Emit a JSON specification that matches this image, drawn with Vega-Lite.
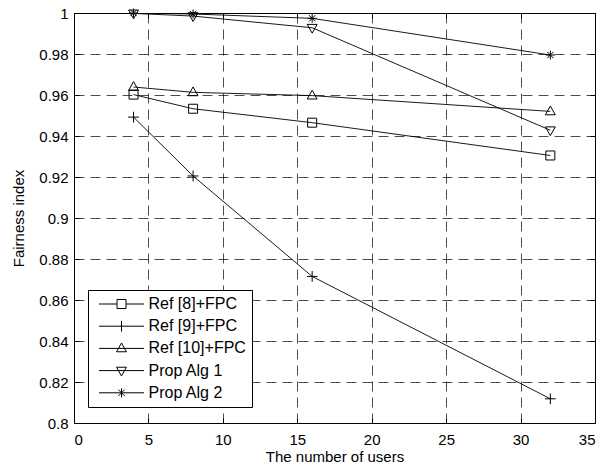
{
  "$schema": "https://vega.github.io/schema/vega-lite/v6.json",
  "width": 521,
  "height": 410,
  "autosize": {"type": "none"},
  "padding": {"left": 74, "top": 13, "right": 16, "bottom": 41},
  "background": "white",
  "data": {"values": [
    {"series": "Ref [8]+FPC", "users": 4, "fairness": 0.9602},
    {"series": "Ref [8]+FPC", "users": 8, "fairness": 0.9533},
    {"series": "Ref [8]+FPC", "users": 16, "fairness": 0.9465},
    {"series": "Ref [8]+FPC", "users": 32, "fairness": 0.9305},
    {"series": "Ref [9]+FPC", "users": 4, "fairness": 0.9492},
    {"series": "Ref [9]+FPC", "users": 8, "fairness": 0.9205},
    {"series": "Ref [9]+FPC", "users": 16, "fairness": 0.8715},
    {"series": "Ref [9]+FPC", "users": 32, "fairness": 0.8118},
    {"series": "Ref [10]+FPC", "users": 4, "fairness": 0.9639},
    {"series": "Ref [10]+FPC", "users": 8, "fairness": 0.9613},
    {"series": "Ref [10]+FPC", "users": 16, "fairness": 0.9597},
    {"series": "Ref [10]+FPC", "users": 32, "fairness": 0.952},
    {"series": "Prop Alg 1", "users": 4, "fairness": 0.9998},
    {"series": "Prop Alg 1", "users": 8, "fairness": 0.9985},
    {"series": "Prop Alg 1", "users": 16, "fairness": 0.9928},
    {"series": "Prop Alg 1", "users": 32, "fairness": 0.9428},
    {"series": "Prop Alg 2", "users": 4, "fairness": 1.0},
    {"series": "Prop Alg 2", "users": 8, "fairness": 0.9995},
    {"series": "Prop Alg 2", "users": 16, "fairness": 0.9974},
    {"series": "Prop Alg 2", "users": 32, "fairness": 0.9795}
  ]},
  "layer": [
    {
      "mark": {"type": "line", "color": "black", "strokeWidth": 0.9, "clip": true},
      "encoding": {
        "x": {"field": "users", "type": "quantitative",
              "scale": {"domain": [0, 35], "nice": false},
              "axis": {"orient": "bottom", "values": [0,5,10,15,20,25,30,35], "title": "The number of users", "grid": true, "format": "~g"}},
        "y": {"field": "fairness", "type": "quantitative",
              "scale": {"domain": [0.8, 1], "nice": false, "zero": false},
              "axis": {"orient": "left", "values": [0.8,0.82,0.84,0.86,0.88,0.9,0.92,0.94,0.96,0.98,1], "title": "Fairness index", "grid": true, "format": "~g"}},
        "detail": {"field": "series", "type": "nominal"}
      }
    },
    {
      "mark": {"type": "point", "filled": false, "stroke": "black", "strokeWidth": 1, "size": 81, "opacity": 1},
      "encoding": {
        "x": {"field": "users", "type": "quantitative",
              "scale": {"domain": [0, 35], "nice": false},
              "axis": {"orient": "top", "values": [0,5,10,15,20,25,30,35], "title": null, "labels": false, "grid": false, "domain": false}},
        "y": {"field": "fairness", "type": "quantitative",
              "scale": {"domain": [0.8, 1], "nice": false, "zero": false},
              "axis": {"orient": "right", "values": [0.8,0.82,0.84,0.86,0.88,0.9,0.92,0.94,0.96,0.98,1], "title": null, "labels": false, "grid": false, "domain": false}},
        "shape": {"field": "series", "type": "nominal",
          "scale": {
            "domain": ["Ref [8]+FPC", "Ref [9]+FPC", "Ref [10]+FPC", "Prop Alg 1", "Prop Alg 2"],
            "range": [
              "M-1,-1H1V1H-1Z",
              "M-1.2,0H1.2M0,-1.2V1.2",
              "M0,-1.2L1.1,0.75H-1.1Z",
              "M0,1.2L1.1,-0.75H-1.1Z",
              "M-1,0H1M0,-1V1M-0.7,-0.7L0.7,0.7M-0.7,0.7L0.7,-0.7"
            ]
          },
          "legend": null
        }
      }
    },
    {
      "transform": [{"filter": {"field": "users", "lt": 0}}],
      "mark": {"type": "point", "filled": false, "stroke": "black", "strokeWidth": 1, "size": 81, "opacity": 1},
      "encoding": {
        "x": {"field": "users", "type": "quantitative", "scale": {"domain": [0, 35], "nice": false}, "axis": null},
        "y": {"field": "fairness", "type": "quantitative", "scale": {"domain": [0.8, 1], "nice": false, "zero": false}, "axis": null},
        "shape": {"field": "series", "type": "nominal",
          "scale": {
            "domain": ["Ref [8]+FPC", "Ref [9]+FPC", "Ref [10]+FPC", "Prop Alg 1", "Prop Alg 2"],
            "range": [
              "M-5,0H-1M1,0H5M-1,-1H1V1H-1Z",
              "M-5,0H5M0,-1.2V1.2",
              "M-5,0H5M0,-1.2L1.1,0.75H-1.1Z",
              "M-5,0H5M0,1.2L1.1,-0.75H-1.1Z",
              "M-5,0H5M0,-1V1M-0.7,-0.7L0.7,0.7M-0.7,0.7L0.7,-0.7"
            ]
          },
          "legend": {
            "title": null,
            "orient": "none",
            "legendX": 14,
            "legendY": 277,
            "padding": 6,
            "rowPadding": 6.2,
            "symbolSize": 81,
            "symbolOffset": 19.5,
            "labelOffset": 19,
            "symbolStrokeColor": "black",
            "symbolStrokeWidth": 1,
            "symbolFillColor": "transparent",
            "fillColor": "white",
            "strokeColor": "black",
            "labelFont": "Liberation Sans",
            "labelFontSize": 16,
            "labelColor": "black"
          }
        }
      }
    }
  ],
  "resolve": {
    "axis": {"x": "independent", "y": "independent"},
    "scale": {"shape": "independent"},
    "legend": {"shape": "independent"}
  },
  "config": {
    "view": {"stroke": "black", "strokeWidth": 1},
    "font": "Liberation Sans",
    "axis": {
      "labelFont": "Liberation Sans",
      "labelFontSize": 15,
      "labelColor": "black",
      "titleFont": "Liberation Sans",
      "titleFontSize": 15,
      "titleFontWeight": "normal",
      "titleColor": "black",
      "domainColor": "black",
      "domainWidth": 1,
      "tickColor": "black",
      "tickSize": -5,
      "tickWidth": 1,
      "gridColor": "black",
      "gridOpacity": 1,
      "gridWidth": 0.7,
      "gridDash": [10, 6]
    },
    "axisX": {"labelPadding": 14, "titlePadding": 2},
    "axisY": {"labelPadding": 11, "titlePadding": 12}
  }
}
